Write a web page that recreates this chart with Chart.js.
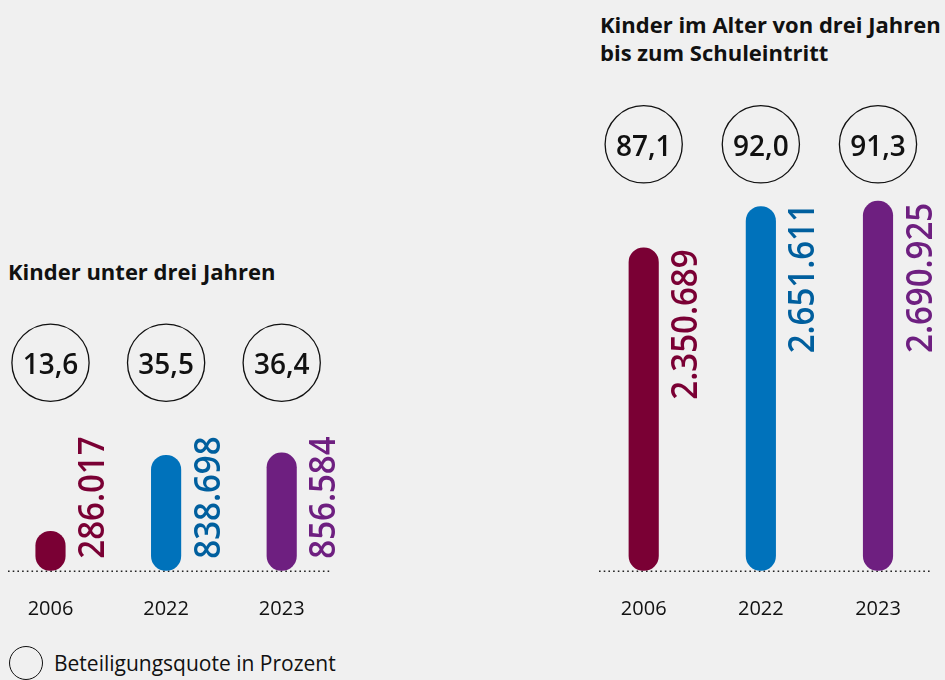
<!DOCTYPE html>
<html><head><meta charset="utf-8">
<script src="https://cdn.jsdelivr.net/npm/chart.js@4.4.1/dist/chart.umd.min.js"></script>
<style>
html,body{margin:0;padding:0;background:#f0f0f0;}
body{width:945px;height:680px;position:relative;overflow:hidden;font-family:"Open Sans",sans-serif;color:#111;}
canvas{position:absolute;top:0;}
#c1{left:0;} #c2{left:590px;}
.title{position:absolute;font-weight:700;font-size:22px;line-height:28px;white-space:nowrap;}
#t1{left:8px;top:257.4px;}
#t2{left:600px;top:10.1px;}
#lgc{position:absolute;left:9.3px;top:645.7px;width:34px;height:34px;box-sizing:border-box;border:1.4px solid #111;border-radius:50%;}
#lgt{position:absolute;left:54px;top:653.3px;font-size:21px;line-height:21px;white-space:nowrap;}
</style></head><body>
<div class="title" id="t1">Kinder unter drei Jahren</div>
<div class="title" id="t2">Kinder im Alter von drei Jahren<br>bis zum Schuleintritt</div>
<div id="lgc"></div><div id="lgt">Beteiligungsquote in Prozent</div>
<canvas id="c1" width="345" height="680"></canvas>
<canvas id="c2" width="355" height="680"></canvas>
<script>
const years = ['2006', '2022', '2023'];
const under3Counts = [286017, 838698, 856584];
const under3Rates = [13.6, 35.5, 36.4];
const over3Counts = [2350689, 2651611, 2690925];
const over3Rates = [87.1, 92.0, 91.3];
const barColors = ['#7a0034', '#0072bb', '#6e1f80'];
const labelColors = ['#7a0034', '#005f9e', '#6e1f80'];
const Y_MAX = 3650000;

const fmtCount = v => String(v).replace(/\B(?=(\d{3})+(?!\d))/g, '.');
const fmtRate = v => v.toFixed(1).replace('.', ',');

const annot = {
  id: 'annot',
  beforeDatasetsDraw(chart, args, o) {
    const {ctx, scales: {y}} = chart;
    const y0 = y.getPixelForValue(0);
    ctx.save();
    ctx.strokeStyle = '#222';
    ctx.lineWidth = 1.6;
    ctx.setLineDash([1.6, 3.1]);
    ctx.beginPath();
    ctx.moveTo(o.lineFrom, y0 + 0.8);
    ctx.lineTo(o.lineTo, y0 + 0.8);
    ctx.stroke();
    ctx.restore();
  },
  afterDatasetsDraw(chart, args, o) {
    const {ctx, scales: {y}} = chart;
    const y0 = y.getPixelForValue(0);
    const meta = chart.getDatasetMeta(0);
    const ds = chart.data.datasets[0];
    meta.data.forEach((bar, i) => {
      ctx.save();
      ctx.beginPath();
      ctx.arc(bar.x, o.circleY, 38.6, 0, Math.PI * 2);
      ctx.lineWidth = 1.3;
      ctx.strokeStyle = '#111';
      ctx.stroke();
      ctx.fillStyle = '#111';
      ctx.font = '600 28px "Open Sans"';
      ctx.textAlign = 'center';
      ctx.textBaseline = 'alphabetic';
      ctx.fillText(fmtRate(o.rates[i]), bar.x, o.circleY + 11.5);
      ctx.restore();
      const txt = fmtCount(ds.data[i]);
      ctx.save();
      ctx.font = '600 33px "Open Sans"';
      ctx.textAlign = 'left';
      ctx.textBaseline = 'alphabetic';
      const m = ctx.measureText(txt);
      let sy;
      if (o.mode === 'start') sy = y0 - 12.8 - m.actualBoundingBoxLeft;
      else sy = bar.y + 2.5 + m.actualBoundingBoxRight;
      ctx.translate(bar.x + 53.5, sy);
      ctx.rotate(-Math.PI / 2);
      ctx.scale(1, 1.12);
      ctx.fillStyle = labelColors[i];
      ctx.fillText(txt, 0, 0);
      ctx.restore();
    });
  }
};

function makeChart(id, counts, rates, padL, padR, circleY, mode, lineFrom, lineTo) {
  return new Chart(document.getElementById(id), {
    type: 'bar',
    data: {
      labels: years,
      datasets: [{
        data: counts,
        backgroundColor: barColors,
        borderRadius: 15,
        borderSkipped: false,
        barThickness: 29.5,
        clip: false
      }]
    },
    options: {
      responsive: false,
      animation: false,
      events: [],
      layout: {padding: {left: padL, right: padR, top: 69.5, bottom: 31.5}},
      plugins: {
        legend: {display: false},
        tooltip: {enabled: false},
        annot: {rates, circleY, mode, lineFrom, lineTo}
      },
      scales: {
        x: {
          offset: false,
          grid: {display: false, drawTicks: false},
          border: {display: false},
          ticks: {color: '#111', font: {family: 'Open Sans', size: 20}, padding: 27}
        },
        y: {display: false, min: 0, max: Y_MAX}
      }
    },
    plugins: [annot]
  });
}

makeChart('c1', under3Counts, under3Rates, 50.5, 345 - 281.7, 362.7, 'start', 8, 330);
makeChart('c2', over3Counts, over3Rates, 53.7, 355 - 288, 144.3, 'end', 9, 342);
</script>
</body></html>
